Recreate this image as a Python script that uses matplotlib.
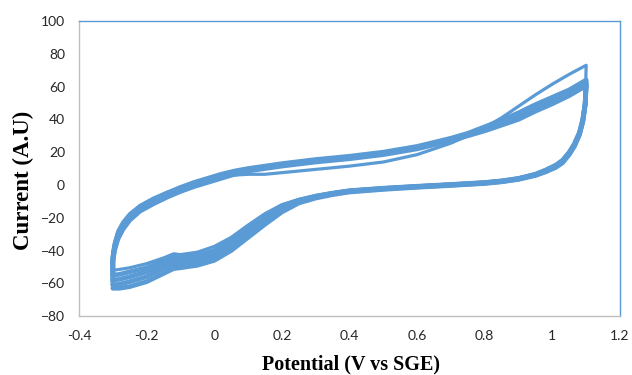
import matplotlib
matplotlib.use("Agg")
import matplotlib.pyplot as plt

# Potential grids (V) for forward and reverse sweeps
x_fwd = [-0.300, -0.300, -0.295, -0.285, -0.270, -0.250, -0.220, -0.180, -0.140, -0.100,
         -0.060, -0.020, 0.020, 0.060, 0.100, 0.150, 0.200, 0.300, 0.400, 0.500,
         0.600, 0.700, 0.750, 0.800, 0.850, 0.900, 0.950, 1.000, 1.050, 1.100]
x_rev = [1.100, 1.097, 1.090, 1.080, 1.065, 1.050, 1.030, 1.010, 0.980, 0.950,
         0.900, 0.850, 0.800, 0.700, 0.600, 0.500, 0.400, 0.350, 0.300, 0.250,
         0.200, 0.150, 0.100, 0.050, 0.000, -0.050, -0.100, -0.120, -0.150, -0.200,
         -0.250, -0.280, -0.300]

# Current (A.U) for each cycle, forward sweep
c1_fwd = [-50, -42, -35, -28, -22.5, -17.5, -12.5, -8, -4.5, -1.5, 1, 3, 5, 6, 6.5, 6.5,
          7.5, 9.5, 11.5, 14, 18.5, 25.5, 30, 35, 41, 48, 55, 61.5, 67.5, 73]
c2_fwd = [-52, -44, -37, -30, -24, -18.5, -13.5, -9, -5, -1.5, 1.5, 4, 6.5, 8.5, 10, 11.5,
          13, 15.5, 17.5, 20, 23.5, 28.5, 31.5, 35.5, 39.5, 44, 49, 53.5, 58, 64]
c3_fwd = [-55, -45, -38, -31, -25, -19.5, -14.5, -10, -6, -2.5, 0.5, 3, 5.5, 7.5, 9.5, 11,
          12.5, 15, 17, 19.5, 23, 28, 31, 34.5, 38.5, 42.5, 47.5, 52, 57, 62.5]
c4_fwd = [-58, -46, -39, -32, -26, -20.5, -15.5, -11, -7, -3.5, -0.5, 2, 4.5, 7, 9, 10.5,
          12, 14.5, 16.5, 19, 22.5, 27.5, 30.5, 33.5, 37, 41, 46, 50.5, 55.5, 61.5]
c5_fwd = [-61, -47, -40, -33, -27, -21.5, -16, -11.5, -7.5, -4, -1, 1.5, 4, 6.5, 8.5, 10,
          11.5, 14, 16, 18.5, 22, 27, 30, 33, 36.5, 40, 45, 49.5, 54.5, 60.5]

# Current (A.U) for each cycle, reverse sweep
c1_rev = [73, 50.5, 40.5, 32.5, 25.5, 20.5, 15.5, 12.5, 9.5, 7, 4.3, 2.8, 1.8, 0.6, -0.5, -1.7,
          -3.2, -4.7, -6.5, -8.8, -12, -17.5, -24.5, -32, -37.5, -41, -42.5, -42, -44.5, -48,
          -50.5, -51.5, -52]
c2_rev = [64, 50, 40, 32, 25, 20, 15, 12, 9, 6.5, 4, 2.5, 1.5, 0.3, -0.8, -2,
          -3.5, -5, -6.8, -9.3, -13, -19, -26.5, -34, -40, -43, -44.5, -44, -46.5, -50.5,
          -53, -54.5, -55]
c3_rev = [62.5, 49.5, 39.5, 31.5, 24.5, 19.5, 14.5, 11.5, 8.5, 6.2, 3.8, 2.3, 1.3, 0.1, -1, -2.2,
          -3.7, -5.2, -7.1, -9.7, -14, -20.5, -28.5, -36, -42, -45, -46.5, -46, -48.5, -53,
          -56, -57.5, -58]
c4_rev = [61.5, 49, 39, 31, 24, 19, 14, 11, 8.2, 6, 3.6, 2.1, 1.1, -0.1, -1.2, -2.4,
          -4, -5.5, -7.5, -10.2, -15, -22, -30, -38, -44, -47, -48.5, -48.5, -51, -56,
          -59, -60.5, -61]
c5_rev = [60.5, 48.5, 38.5, 30.5, 23.5, 18.5, 13.5, 10.7, 8, 5.8, 3.4, 1.9, 0.9, -0.3, -1.4, -2.7,
          -4.3, -5.9, -8, -11, -16.5, -24, -32, -40, -46, -49, -50.5, -51, -54, -59,
          -62, -63, -63]

cycles = [(c1_fwd, c1_rev, 2.3), (c2_fwd, c2_rev, 3.4), (c3_fwd, c3_rev, 3.4),
          (c4_fwd, c4_rev, 3.4), (c5_fwd, c5_rev, 3.4)]

x_ticks = [-0.4, -0.2, 0, 0.2, 0.4, 0.6, 0.8, 1, 1.2]
x_ticklabels = ["-0.4", "-0.2", "0", "0.2", "0.4", "0.6", "0.8", "1", "1.2"]
y_ticks = [-80, -60, -40, -20, 0, 20, 40, 60, 80, 100]

color = "#5B9BD5"

fig = plt.figure(figsize=(6.32, 3.75), dpi=100)
ax = fig.add_axes([0.125, 0.157, 0.856, 0.787])

for fwd, rev, lw in cycles:
    ax.plot(x_fwd + x_rev, fwd + rev, color=color, lw=lw,
            solid_joinstyle="round", solid_capstyle="round")

ax.set_xlim(-0.4, 1.2)
ax.set_ylim(-80, 100)
ax.set_xticks(x_ticks)
ax.set_xticklabels(x_ticklabels)
ax.set_yticks(y_ticks)
ax.tick_params(length=0, labelsize=10, pad=10)
for lab in ax.get_xticklabels() + ax.get_yticklabels():
    lab.set_family("Lato")
    lab.set_color("#262626")

ax.spines["left"].set_color("#BFBFBF")
ax.spines["bottom"].set_color("#BFBFBF")
ax.spines["top"].set_color(color)
ax.spines["right"].set_color(color)
for s in ax.spines.values():
    s.set_linewidth(1.0)

ax.set_xlabel("Potential (V vs SGE)", family="Liberation Serif", fontweight="bold",
              fontsize=14.5, va="center")
ax.set_ylabel("Current (A.U)", family="Liberation Serif", fontweight="bold",
              fontsize=16.5, va="center")
ax.xaxis.set_label_coords(0.503, -0.165)
ax.yaxis.set_label_coords(-0.102, 0.461)

fig.savefig("out.png", dpi=100)
